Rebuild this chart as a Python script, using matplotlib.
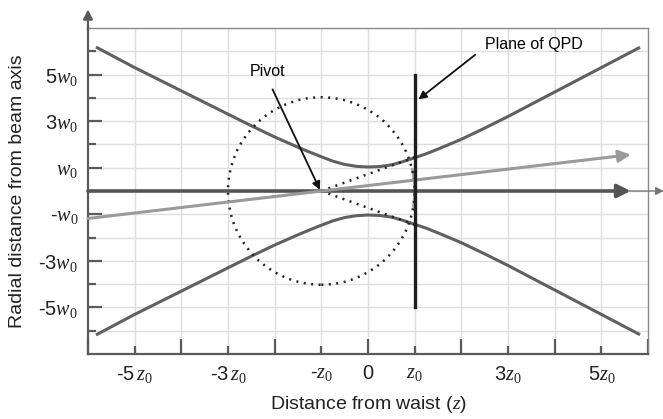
import matplotlib
matplotlib.use('Agg')
import matplotlib.pyplot as plt
from matplotlib.patches import Ellipse, Arc

plt.rcParams['font.family'] = ['Liberation Sans', 'DejaVu Sans']
plt.rcParams['mathtext.fontset'] = 'custom'
plt.rcParams['mathtext.it'] = 'Liberation Serif:italic'
plt.rcParams['mathtext.rm'] = 'Liberation Serif'

# beam radius (units of w0 vs units of z0)
z_beam = [-5.8, -5, -4, -3, -2.5, -2, -1.5, -1.25, -1, -0.75, -0.5, -0.25, 0,
          0.25, 0.5, 0.75, 1, 1.25, 1.5, 2, 2.5, 3, 4, 5, 5.8]
w_upper = [6.15, 5.3, 4.3, 3.3, 2.8, 2.32, 1.88, 1.67, 1.47, 1.28, 1.14, 1.06, 1.03,
           1.05, 1.12, 1.26, 1.43, 1.6, 1.8, 2.22, 2.7, 3.2, 4.25, 5.3, 6.14]
w_lower = [-w for w in w_upper]

pivot = (-1, 0)
qpd_z = 1
qpd_span = (-5, 5)
circle_w, circle_h = 4, 8.05
tilt_z = [-6, 5.63]
tilt_y = [-1.18, 1.56]
spot_upper = (1, 1.45)
spot_lower = (1, -1.45)

x_ticks = [-6, -5, -4, -3, -2, -1, 0, 1, 2, 3, 4, 5, 6]
x_labels = {-5: '-5$\\,z_0$', -3: '-3$\\,z_0$', -1: '-$z_0$', 0: '0',
            1: '$z_0$', 3: '3$z_0$', 5: '5$z_0$'}
y_ticks = [-6, -5, -4, -3, -2, -1, 0, 1, 2, 3, 4, 5, 6]
y_labels = {5: '5$w_0$', 3: '3$w_0$', 1: '$w_0$',
            -1: '-$w_0$', -3: '-3$w_0$', -5: '-5$w_0$'}

fig = plt.figure(figsize=(6.63, 4.19), dpi=100)
ax = fig.add_axes([0.1327, 0.1551, 0.9774 - 0.1327, 0.9332 - 0.1551])
ax.set_xlim(-6, 6)
ax.set_ylim(-7, 7)

# grid
for x in range(-5, 6):
    ax.axvline(x, color='#dedede', lw=1, zorder=0)
for y in range(-6, 7):
    ax.axhline(y, color='#dedede', lw=1, zorder=0)

# beam envelope
ax.plot(z_beam, w_upper, color='#606060', lw=2.2, zorder=3,
        solid_joinstyle='round')
ax.plot(z_beam, w_lower, color='#606060', lw=2.2, zorder=3,
        solid_joinstyle='round')

# dotted circle around pivot and light wavefront arc
dots = (0, (0.8, 2.2))
ax.add_patch(Ellipse(pivot, circle_w, circle_h, fill=False, color='#222222',
                     lw=1.8, ls=dots, zorder=4))
ax.add_patch(Arc(pivot, circle_w, circle_h, theta1=-20, theta2=27,
                 color='#a8a8a8', lw=2, zorder=3))
ax.plot([pivot[0], spot_upper[0]], [pivot[1], spot_upper[1]], color='#222222',
        lw=1.8, ls=dots, zorder=4)
ax.plot([pivot[0], spot_lower[0]], [pivot[1], spot_lower[1]], color='#222222',
        lw=1.8, ls=dots, zorder=4)

# optical axis
ax.annotate('', xy=(5.63, 0), xytext=(-6, 0), zorder=5,
            arrowprops=dict(arrowstyle='-|>', color='#555555', lw=2.6,
                            mutation_scale=20, shrinkA=0, shrinkB=0))
ax.annotate('', xy=(6.34, 0), xytext=(5.6, 0), annotation_clip=False, zorder=5,
            arrowprops=dict(arrowstyle='-|>', color='#777777', lw=1,
                            mutation_scale=12, shrinkA=0, shrinkB=0))
# tilted beam axis
ax.annotate('', xy=(tilt_z[1], tilt_y[1]), xytext=(tilt_z[0], tilt_y[0]), zorder=5,
            arrowprops=dict(arrowstyle='-|>', color='#9a9a9a', lw=2.2,
                            mutation_scale=18, shrinkA=0, shrinkB=0))

# plane of QPD
ax.plot([qpd_z, qpd_z], qpd_span, color='#1e1e1e', lw=2.4, zorder=6)

ax.annotate('Plane of QPD', xy=(1.08, 3.93), xytext=(2.5, 6.3), fontsize=11.5,
            va='center', ha='left', zorder=7,
            arrowprops=dict(arrowstyle='-|>', color='#111111', lw=1.3,
                            mutation_scale=12, shrinkA=6, shrinkB=0,
                            relpos=(0, 0.3)))
ax.annotate('Pivot', xy=(-1.03, 0.05), xytext=(-2.15, 5.13), fontsize=11.5,
            va='center', ha='center', zorder=7,
            arrowprops=dict(arrowstyle='-|>', color='#111111', lw=1.3,
                            mutation_scale=12, shrinkA=6, shrinkB=0,
                            relpos=(0.5, 0)))

# frame
for s in ['top', 'right']:
    ax.spines[s].set_color('#8a8a8a')
    ax.spines[s].set_linewidth(1)
for s in ['left', 'bottom']:
    ax.spines[s].set_color('#5a5a5a')
    ax.spines[s].set_linewidth(1.6)
ax.annotate('', xy=(-6, 7.8), xytext=(-6, 6.9), annotation_clip=False,
            arrowprops=dict(arrowstyle='-|>', color='#5a5a5a', lw=1.6,
                            mutation_scale=14, shrinkA=0, shrinkB=0))

ax.set_xticks(x_ticks)
ax.set_xticklabels([x_labels.get(t, '') for t in x_ticks])
ax.set_yticks(y_ticks)
ax.set_yticklabels([y_labels.get(t, '') for t in y_ticks])
ax.tick_params(axis='both', direction='in', colors='#5a5a5a', width=1.6,
               labelcolor='#222222', labelsize=14.5, pad=7)
for t, tick in zip(x_ticks, ax.xaxis.get_major_ticks()):
    tick.tick1line.set_markersize(6 if t % 2 else 11)
for t, tick in zip(y_ticks, ax.yaxis.get_major_ticks()):
    tick.tick1line.set_markersize(10 if t % 2 else 6)

ax.set_xlabel('Distance from waist ($z$)', fontsize=14, color='#222222')
ax.set_ylabel('Radial distance from beam axis', fontsize=14, color='#222222')
ax.xaxis.set_label_coords(0.5, -0.123)
ax.yaxis.set_label_coords(-0.11, 0.5)

fig.savefig('out.png', dpi=100)
